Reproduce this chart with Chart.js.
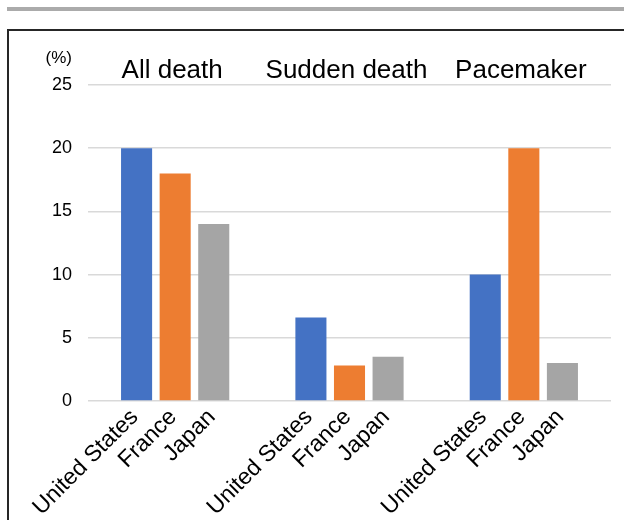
<!DOCTYPE html>
<html>
<head>
<meta charset="utf-8">
<script src="https://cdn.jsdelivr.net/npm/chart.js@4/dist/chart.umd.min.js"></script>
<style>
  html, body { margin: 0; padding: 0; background: #fff; overflow: hidden; }
  #rule { position: absolute; left: 7px; top: 7px; width: 617px; height: 4px; background: #ababab; }
  #frame { position: absolute; left: 7px; top: 29px; width: 700px; height: 600px; border: 2px solid #262626; box-sizing: border-box; }
  #chart { position: absolute; left: 0; top: 0; }
</style>
</head>
<body>
<div id="rule"></div>
<div id="frame"></div>
<canvas id="chart" width="624" height="520"></canvas>
<script>
// Outcome groups and the countries compared within each group
const groups = ['All death', 'Sudden death', 'Pacemaker'];
const countries = ['United States', 'France', 'Japan'];

// Rates (%) per country, in the order of the groups above
const unitedStates = [20, 6.6, 10];
const france = [18, 2.8, 20];
const japan = [14, 3.5, 3];

// Y-axis range and tick spacing (%)
const yMin = 0;
const yMax = 25;
const yStep = 5;

const colors = ['#4472C4', '#ED7D31', '#A5A5A5'];
const FONT = '"Liberation Sans", Arial, sans-serif';

// Draws the unit label, the group titles above the plot and the
// rotated country name under every bar.
const annotations = {
  id: 'annotations',
  afterDraw(chart) {
    const ctx = chart.ctx;
    const x = chart.scales.x;
    const y = chart.scales.y;
    ctx.save();
    ctx.fillStyle = '#000';

    ctx.font = '17px ' + FONT;
    ctx.textAlign = 'right';
    ctx.textBaseline = 'middle';
    ctx.fillText('(%)', y.right - 16, 58);

    ctx.font = '26px ' + FONT;
    ctx.textAlign = 'center';
    ctx.textBaseline = 'alphabetic';
    groups.forEach((g, i) => {
      ctx.fillText(g, x.getPixelForValue(i) - 3, 78);
    });

    ctx.font = '23px ' + FONT;
    chart.data.datasets.forEach((ds, di) => {
      const meta = chart.getDatasetMeta(di);
      meta.data.forEach(bar => {
        ctx.save();
        ctx.translate(bar.x + 2.5, chart.chartArea.bottom + 17);
        ctx.rotate(-Math.PI / 4);
        ctx.textAlign = 'right';
        ctx.textBaseline = 'alphabetic';
        ctx.fillText(ds.label, 0, 0);
        ctx.restore();
      });
    });
    ctx.restore();
  }
};

new Chart(document.getElementById('chart'), {
  type: 'bar',
  data: {
    labels: groups,
    datasets: [
      { label: countries[0], data: unitedStates, backgroundColor: colors[0] },
      { label: countries[1], data: france, backgroundColor: colors[1] },
      { label: countries[2], data: japan, backgroundColor: colors[2] }
    ]
  },
  options: {
    responsive: false,
    animation: false,
    devicePixelRatio: 1,
    categoryPercentage: 0.664,
    barPercentage: 0.805,
    layout: { padding: { top: 85, bottom: 119, left: 0, right: 13 } },
    plugins: {
      legend: { display: false },
      tooltip: { enabled: false }
    },
    scales: {
      x: { display: false },
      y: {
        min: yMin,
        max: yMax,
        ticks: {
          stepSize: yStep,
          padding: 16,
          color: '#000',
          font: { family: FONT, size: 18 }
        },
        grid: { color: '#d9d9d9', lineWidth: 1.5, drawTicks: false },
        border: { display: false },
        afterFit(scale) { scale.width = 88; }
      }
    }
  },
  plugins: [annotations]
});
</script>
</body>
</html>
